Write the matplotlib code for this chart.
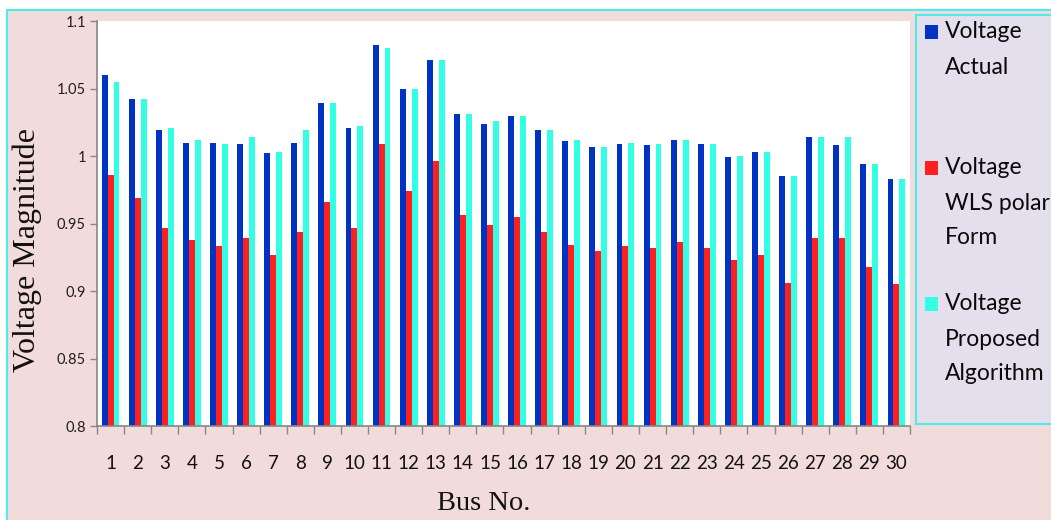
import matplotlib.pyplot as plt
from matplotlib.patches import Rectangle
import numpy as np

# bus voltage magnitudes (p.u.)
buses = list(range(1, 31))
v_actual = [1.060, 1.042, 1.019, 1.010, 1.010, 1.009, 1.002, 1.010, 1.039, 1.021,
            1.082, 1.050, 1.071, 1.031, 1.024, 1.030, 1.019, 1.011, 1.007, 1.009,
            1.008, 1.012, 1.009, 0.999, 1.003, 0.985, 1.014, 1.008, 0.994, 0.983]
v_wls = [0.986, 0.969, 0.947, 0.938, 0.933, 0.939, 0.927, 0.944, 0.966, 0.947,
         1.009, 0.974, 0.996, 0.956, 0.949, 0.955, 0.944, 0.934, 0.930, 0.933,
         0.932, 0.936, 0.932, 0.923, 0.927, 0.906, 0.939, 0.939, 0.918, 0.905]
v_proposed = [1.055, 1.042, 1.021, 1.012, 1.009, 1.014, 1.003, 1.019, 1.039, 1.022,
              1.080, 1.050, 1.071, 1.031, 1.026, 1.030, 1.019, 1.012, 1.007, 1.010,
              1.009, 1.012, 1.009, 1.000, 1.003, 0.985, 1.014, 1.014, 0.994, 0.983]
series_labels = ["Voltage\nActual", "Voltage\nWLS polar\nForm", "Voltage\nProposed\nAlgorithm"]
series_colors = ["#0033C4", "#FF1F1F", "#33FFE4"]
y_ticks = [0.8, 0.85, 0.9, 0.95, 1.0, 1.05, 1.1]

W, H = 1051, 520
fig = plt.figure(figsize=(W / 100, H / 100), dpi=100)
fig.patch.set_facecolor("white")

# chart area background with cyan frame
fig.patches.append(Rectangle((7 / W, -0.05), 1.1, (H - 10) / H + 0.05,
                             transform=fig.transFigure, facecolor="#F2DCDB",
                             edgecolor="#4DEBEB", linewidth=1.5, zorder=-5))

ax = fig.add_axes([97 / W, (H - 426) / H, (910 - 97) / W, 405 / H])
ax.set_zorder(2)
ax.set_facecolor("white")

x = np.array(buses)
bw = 0.22
for i, vals in enumerate([v_actual, v_wls, v_proposed]):
    ax.bar(x + (i - 1) * bw, vals, width=bw, color=series_colors[i],
           edgecolor="none", zorder=2)

ax.set_xlim(0.5, 30.5)
ax.set_ylim(0.8, 1.1)
ax.set_yticks(y_ticks)
ax.set_yticklabels(["%g" % t for t in y_ticks], fontfamily="Lato", fontsize=10.5,
                   color="#1e1e1e")
ax.set_xticks(x)
ax.set_xticklabels([str(b) for b in buses], fontfamily="Lato", fontsize=13.5,
                   color="#111111")
ax.set_xticks(np.arange(0.5, 31, 1), minor=True)
ax.tick_params(axis="x", which="major", length=0, pad=21)
ax.tick_params(axis="x", which="minor", length=6, color="#868686", width=1)
ax.tick_params(axis="y", length=5, color="#868686", width=1, pad=3)

for s in ["top", "right"]:
    ax.spines[s].set_visible(False)
for s in ["left", "bottom"]:
    ax.spines[s].set_color("#868686")
    ax.spines[s].set_linewidth(1.2)

fig.text(27 / W, 1 - 250 / H, "Voltage Magnitude", rotation=90, ha="center",
         va="center", fontfamily="Liberation Serif", fontsize=23, color="#111111")
fig.text(484 / W, 1 - 503 / H, "Bus No.", ha="center", va="center",
         fontfamily="Liberation Serif", fontsize=20.5, color="#111111")

# legend panel
fig.patches.append(Rectangle((916 / W, 1 - 424 / H), 0.2, (424 - 15) / H,
                             transform=fig.transFigure, facecolor="#E4DFEC",
                             edgecolor="#4DEBEB", linewidth=1.5, zorder=1))
for i, (lab, col) in enumerate(zip(series_labels, series_colors)):
    y0 = 32 + i * 136
    fig.patches.append(Rectangle((925 / W, 1 - (y0 + 7) / H), 13 / W, 14 / H,
                                 transform=fig.transFigure, facecolor=col,
                                 edgecolor="none", zorder=3))
    for j, line in enumerate(lab.split("\n")):
        fig.text(945 / W, 1 - (y0 + j * 35) / H, line, ha="left", va="center",
                 fontfamily="Lato", fontsize=16.5, color="#0a0a0a")

fig.savefig("out.png", dpi=100)
